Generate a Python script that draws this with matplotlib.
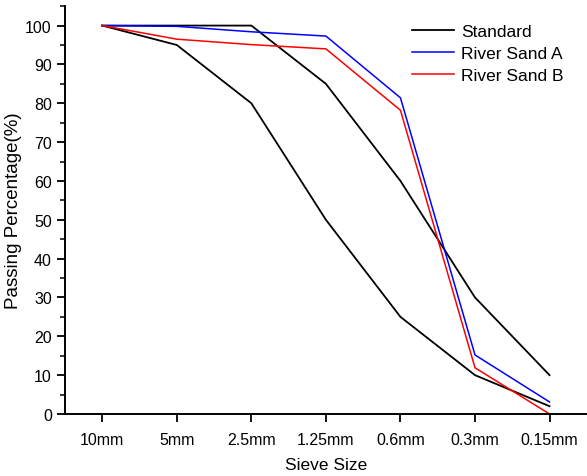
import numpy as np
import matplotlib.pyplot as plt
from matplotlib.ticker import MultipleLocator

plt.rcParams['font.family'] = ['Liberation Sans', 'DejaVu Sans']

sieves = ['10mm', '5mm', '2.5mm', '1.25mm', '0.6mm', '0.3mm', '0.15mm']
std_upper = [100, 100, 100, 85, 60, 30, 10]
std_lower = [100, 95, 80, 50, 25, 10, 2]
sand_a = [100, 99.8, 98.4, 97.3, 81.4, 15.2, 3.1]
sand_b = [100, 96.5, 95.1, 94.0, 78.2, 11.9, 0]

x = np.arange(len(sieves))

fig = plt.figure(figsize=(5.87, 4.77), dpi=100)
ax = fig.add_axes([0.1107, 0.130, 0.889, 0.855])

ax.plot(x, std_upper, color='black', lw=1.3, label='Standard')
ax.plot(x, std_lower, color='black', lw=1.3)
ax.plot(x, sand_a, color='#0000ff', lw=1.1, label='River Sand A')
ax.plot(x, sand_b, color='#ff0000', lw=1.1, label='River Sand B')

ax.set_xlim(-0.5, 6.5)
ax.set_ylim(0, 105)
ax.set_xticks(x)
ax.set_xticklabels(sieves)
ax.yaxis.set_major_locator(MultipleLocator(10))
ax.yaxis.set_minor_locator(MultipleLocator(5))
ax.set_yticks(np.arange(0, 101, 10))

for side in ['top', 'right']:
    ax.spines[side].set_visible(False)
for side in ['left', 'bottom']:
    ax.spines[side].set_linewidth(1.4)

ax.tick_params(axis='both', which='major', direction='out', length=6, width=1.3,
               labelsize=11.5, colors='black')
ax.tick_params(axis='y', which='minor', direction='out', length=3.5, width=1.1)
ax.tick_params(axis='x', pad=7)

ax.set_xlabel('Sieve Size', fontsize=12.5, labelpad=7)
ax.set_ylabel('Passing Percentage(%)', fontsize=13.5, labelpad=2)

ax.legend(loc='upper right', frameon=False, fontsize=12.5, handlelength=2.4,
          handletextpad=0.4, labelspacing=0.4, bbox_to_anchor=(0.985, 0.995))

fig.savefig('out.png', dpi=100)
